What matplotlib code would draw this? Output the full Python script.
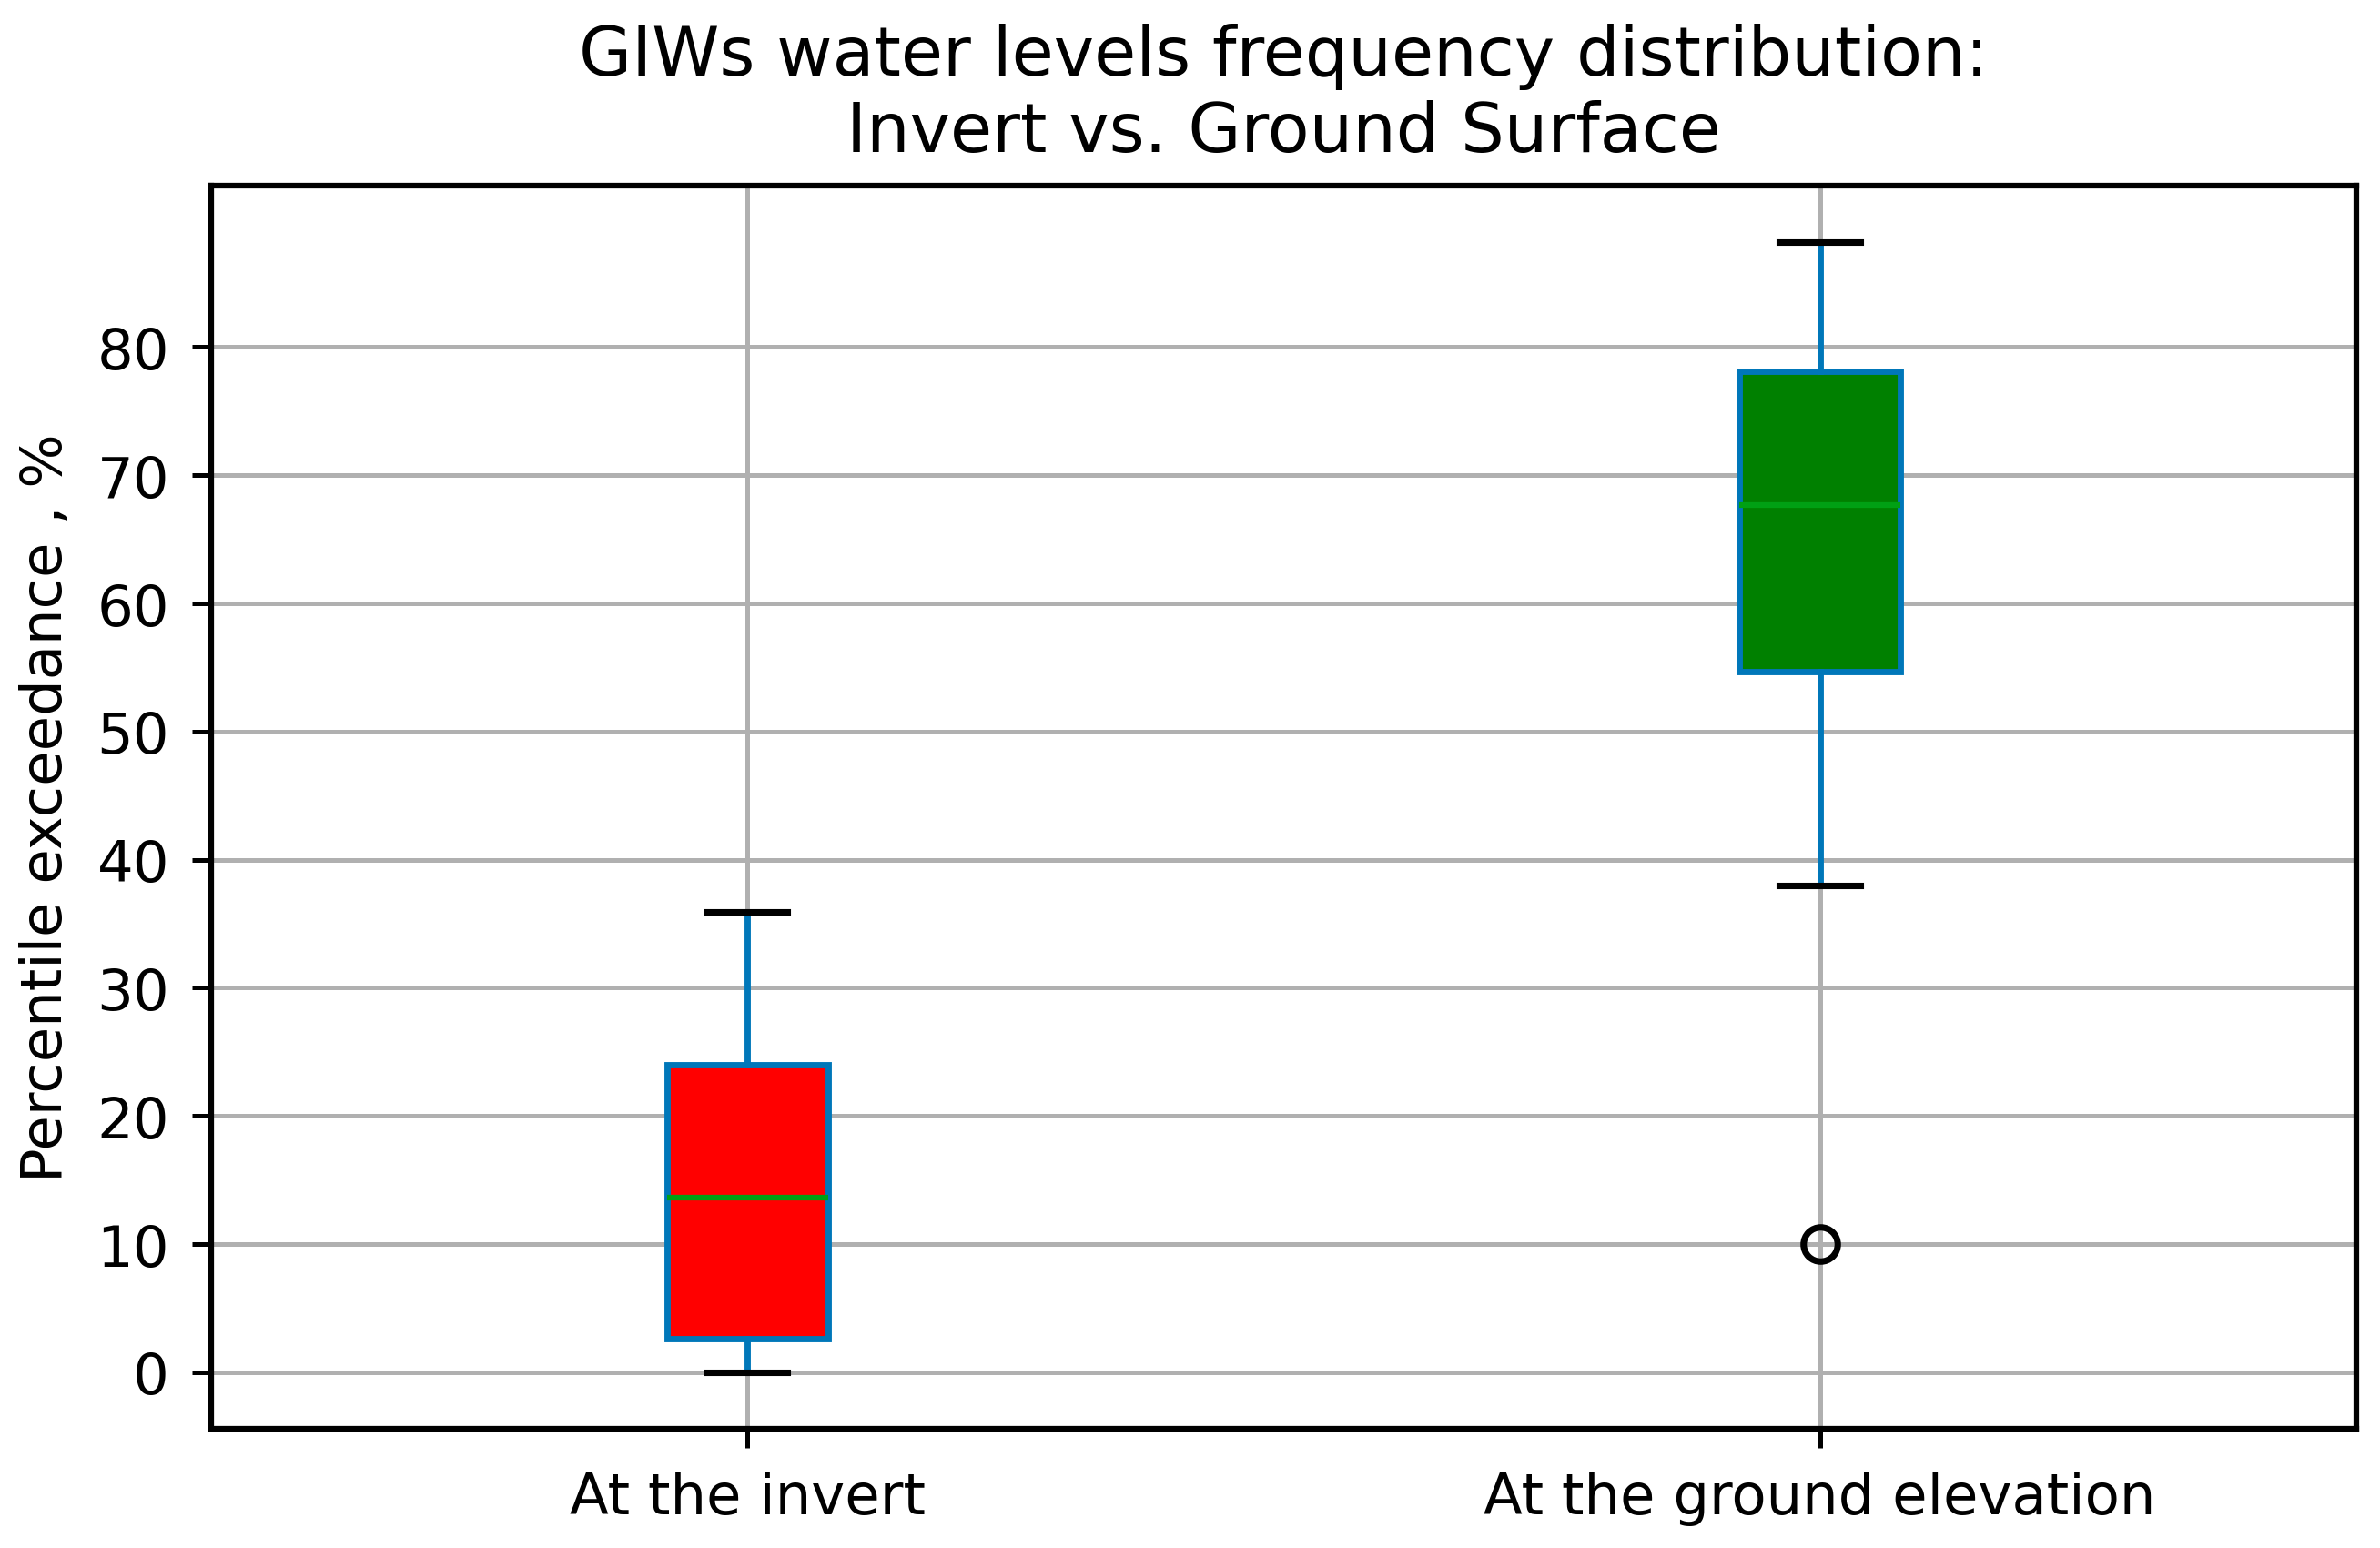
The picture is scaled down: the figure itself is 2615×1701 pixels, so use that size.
import matplotlib
matplotlib.use("Agg")
import matplotlib.pyplot as plt

# box statistics (percentile exceedance, %)
labels = ["At the invert", "At the ground elevation"]
whisker_low = [0.0, 38.0]
q1 = [2.6, 54.7]
median = [13.6, 67.7]
q3 = [24.0, 78.1]
whisker_high = [35.9, 88.2]
outliers = [[], [10.0]]
box_colors = ["red", "green"]

stats = []
for i in range(len(labels)):
    stats.append(dict(label=labels[i], whislo=whisker_low[i], q1=q1[i], med=median[i],
                      q3=q3[i], whishi=whisker_high[i], fliers=outliers[i]))

blue = "#0077b9"

fig = plt.figure(figsize=(2615 / 300, 1702 / 300), dpi=300)
ax = fig.add_axes([0.0887, 0.077, 0.9013, 0.8026])

bp = ax.bxp(stats, patch_artist=True, widths=0.15,
            boxprops=dict(edgecolor=blue, linewidth=1.65),
            whiskerprops=dict(color=blue, linewidth=1.65),
            capprops=dict(color="k", linewidth=1.7),
            medianprops=dict(color="#00a014", linewidth=1.5),
            flierprops=dict(marker="o", markerfacecolor="none", markeredgecolor="k",
                            markersize=9, markeredgewidth=1.7))
for patch, c in zip(bp["boxes"], box_colors):
    patch.set_facecolor(c)

ax.grid(True, color="#b0b0b0", linewidth=1.2)
ax.set_axisbelow(True)
ax.set_yticks(range(0, 90, 10))
ax.tick_params(labelsize=15, length=5, width=1.2, pad=6)
for s in ax.spines.values():
    s.set_linewidth(1.5)
ax.set_ylabel("Percentile exceedance , %", fontsize=15, labelpad=6)
ax.set_title("GIWs water levels frequency distribution:\nInvert vs. Ground Surface",
             fontsize=18, pad=9)

fig.savefig("out.png", dpi=300)
